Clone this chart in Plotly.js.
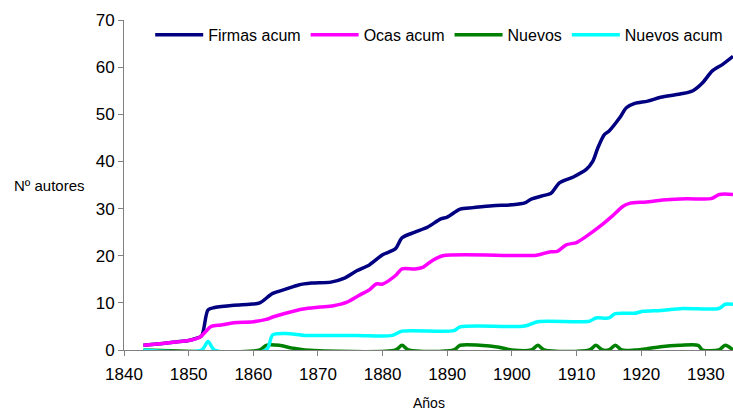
<!DOCTYPE html>
<html>
<head>
<meta charset="utf-8">
<script src="https://cdn.plot.ly/plotly-3.0.1.min.js"></script>
<style>
  html, body { margin: 0; padding: 0; background: #fff; }
  #chart { width: 733px; height: 412px; }
</style>
</head>
<body>
<div id="chart"></div>
<script>
// values (year, number of authors)
var firmasYears = [1843, 1846, 1848, 1850, 1851, 1852, 1853, 1854, 1857, 1859.5, 1861, 1863, 1865, 1867, 1869, 1872, 1874, 1876, 1878, 1880, 1882, 1883, 1885, 1887, 1889, 1890, 1892, 1894, 1897, 1900, 1902, 1903, 1905, 1906, 1907.4, 1909.5, 1911.5, 1912.5, 1913.3, 1914.3, 1915, 1916.7, 1917.7, 1919, 1921, 1923, 1926, 1928, 1929.5, 1931, 1932.6, 1934.2];
var firmasAcum = [1.0, 1.4, 1.7, 2.0, 2.4, 3.0, 8.5, 9.0, 9.5, 9.7, 10.0, 12.0, 12.9, 13.8, 14.2, 14.4, 15.2, 16.8, 18.1, 20.2, 21.5, 23.8, 25.0, 26.1, 27.8, 28.2, 29.9, 30.2, 30.6, 30.8, 31.2, 32.0, 32.8, 33.2, 35.5, 36.7, 38.3, 40.0, 42.9, 45.7, 46.4, 49.3, 51.4, 52.3, 52.8, 53.6, 54.3, 55.0, 56.7, 59.2, 60.6, 62.3];

var ocasYears = [1843, 1846, 1848, 1850, 1851.7, 1853.5, 1855, 1857, 1860, 1862, 1863, 1865, 1867.7, 1870.3, 1872.4, 1874.4, 1876.5, 1878, 1879, 1880, 1882, 1883, 1885, 1886.3, 1887.6, 1889.3, 1903.8, 1905.8, 1907, 1908.4, 1910, 1911.5, 1913.6, 1915.6, 1917.2, 1918.2, 1920.8, 1923.3, 1927, 1930.8, 1932.1, 1934.2];
var ocasAcum = [1.0, 1.4, 1.7, 2.0, 2.7, 5.0, 5.3, 5.8, 6.0, 6.5, 7.0, 7.8, 8.7, 9.1, 9.4, 10.1, 11.7, 12.8, 14.0, 14.0, 15.8, 17.2, 17.2, 17.6, 18.9, 20.0, 20.1, 20.8, 20.9, 22.3, 22.8, 24.1, 26.2, 28.5, 30.5, 31.1, 31.4, 31.8, 32.1, 32.1, 33.0, 33.0];

var nuevosYears = [1843, 1861, 1862, 1864, 1866, 1868, 1882, 1883, 1884, 1891, 1892, 1895, 1898, 1900, 1903, 1904, 1905, 1912, 1913, 1914, 1915, 1916, 1917, 1919, 1921, 1923, 1926, 1928.8, 1929.5, 1932, 1933, 1934.2];
var nuevos = [0, 0, 1, 1, 0.4, 0, 0, 1, 0, 0, 1, 1, 0.6, 0, 0, 1, 0, 0, 1, 0, 0, 1, 0, 0, 0.3, 0.7, 1, 1, 0, 0, 1, 0];

var nuevosAcumYears = [1843, 1852, 1853, 1854, 1862, 1863, 1865, 1868, 1871, 1876, 1881.5, 1883, 1891, 1892, 1902, 1904, 1912, 1913, 1915, 1916, 1919, 1920.3, 1923, 1926.4, 1932, 1933, 1934.2];
var nuevosAcum = [0, 0, 1.8, 0, 0, 3.2, 3.5, 3.1, 3.1, 3.1, 3.1, 4.0, 4.1, 4.9, 5.1, 6.0, 6.1, 6.8, 6.8, 7.7, 7.8, 8.2, 8.4, 8.8, 8.8, 9.7, 9.7];

var font = "Liberation Sans, Arial, sans-serif";

function serie(name, x, y, color, width) {
  return {
    x: x, y: y, name: name, type: "scatter", mode: "lines",
    line: {color: color, width: width, shape: "spline", smoothing: 0.8},
    hoverinfo: "skip"
  };
}

var data = [
  serie("Firmas acum", firmasYears, firmasAcum, "#000080", 3.5),
  serie("Ocas acum", ocasYears, ocasAcum, "#ff00ff", 3.5),
  serie("Nuevos", nuevosYears, nuevos, "#008000", 3.5),
  serie("Nuevos acum", nuevosAcumYears, nuevosAcum, "#00ffff", 3.5)
];

var layout = {
  width: 733, height: 412,
  margin: {l: 124, r: 0, t: 20, b: 62},
  paper_bgcolor: "#fff", plot_bgcolor: "#fff",
  font: {family: font, color: "#000"},
  showlegend: true,
  legend: {
    orientation: "h", x: 0.043, y: 0.955, xanchor: "left", yanchor: "middle",
    font: {family: font, size: 16, color: "#000"},
    bgcolor: "rgba(0,0,0,0)", itemwidth: 48, tracegroupgap: 0
  },
  xaxis: {
    range: [1840, 1934.2], tick0: 1840, dtick: 10,
    showgrid: false, zeroline: false,
    showline: true, linecolor: "#808080", linewidth: 1,
    ticks: "outside", ticklen: 5, tickcolor: "#808080",
    ticklabelstandoff: 4,
    tickfont: {family: font, size: 17, color: "#000"}
  },
  yaxis: {
    range: [0, 70], tick0: 0, dtick: 10,
    showgrid: false, zeroline: false,
    showline: true, linecolor: "#808080", linewidth: 1,
    ticks: "outside", ticklen: 5, tickcolor: "#808080",
    tickfont: {family: font, size: 17, color: "#000"}
  },
  annotations: [
    {text: "Nº autores", xref: "paper", yref: "paper", x: -0.123, y: 0.5,
     xanchor: "center", yanchor: "middle", showarrow: false,
     font: {family: font, size: 15, color: "#000"}},
    {text: "Años", xref: "paper", yref: "paper", x: 0.5, y: -0.16,
     xanchor: "center", yanchor: "middle", showarrow: false,
     font: {family: font, size: 14, color: "#000"}}
  ]
};

Plotly.newPlot("chart", data, layout, {displayModeBar: false, staticPlot: true});
</script>
</body>
</html>
